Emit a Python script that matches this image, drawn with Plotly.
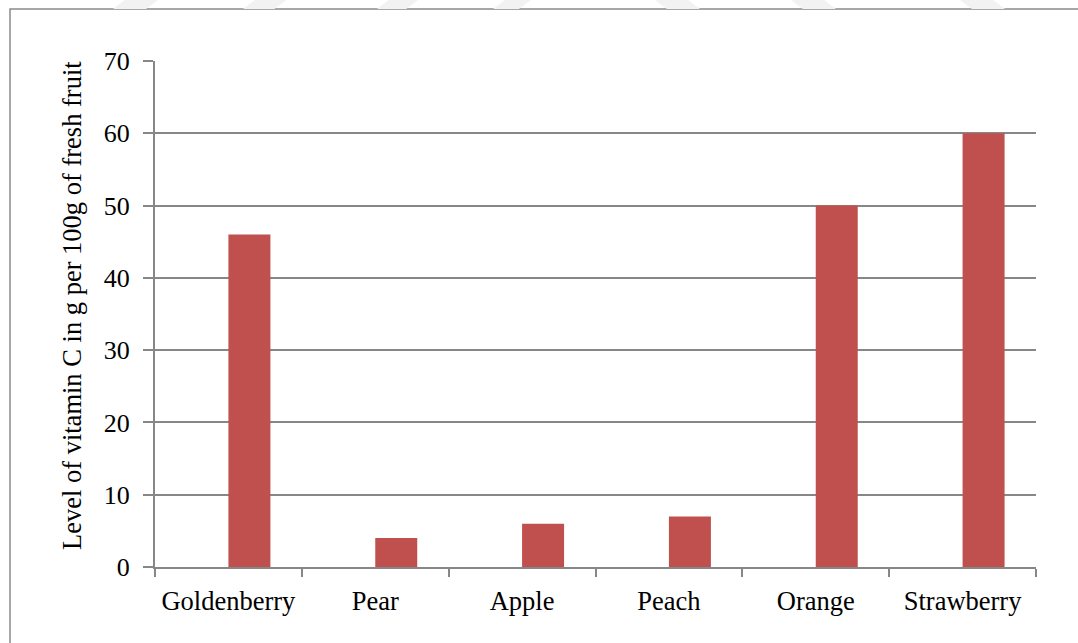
import plotly.graph_objects as go

# Vitamin C content per fruit
fruits = ["Goldenberry", "Pear", "Apple", "Peach", "Orange", "Strawberry"]
vitamin_c = [46, 4, 6, 7, 50, 60]

y_ticks = [0, 10, 20, 30, 40, 50, 60, 70]
y_title = "Level of vitamin C in g per 100g of fresh fruit"

W, H = 1078, 643
L, R, T, B = 155, 42, 61, 76
PW, PH = W - L - R, H - T - B

FONT = "Liberation Serif, Times New Roman, serif"
GRID = "#878787"


def px(x):
    return (x - L) / PW


def py(y):
    return (H - B - y) / PH


fig = go.Figure()

# Bars sit in the right half of each category slot (Excel clustered style)
fig.add_trace(go.Bar(
    x=fruits,
    y=vitamin_c,
    width=0.286,
    offset=0,
    marker=dict(color="#C0504D", line=dict(width=0)),
    hoverinfo="x+y",
))

shapes = []
# chart frame
shapes.append(dict(
    type="rect", xref="paper", yref="paper",
    x0=px(10), x1=px(1090), y0=py(660), y1=py(9),
    line=dict(color="#8a8a8a", width=1.5), fillcolor="rgba(0,0,0,0)",
    layer="below",
))

# faint diagonal bands along the top edge
bands = [(113, 173, 1), (243, 300, 1), (377, 430, 1), (493, 540, 1),
         (655, 715, -1), (791, 851, -1), (960, 1020, -1)]
for x0, x1, d in bands:
    w = x1 - x0
    s = 12 * d
    if d > 0:
        pts = [(x0, 9), (x0 + w * 0.55, 9), (x0 + w * 0.55 + s, 0), (x0 + s, 0)]
    else:
        pts = [(x0 - s, 9), (x0 - s + w * 0.55, 9), (x0 + w * 0.55, 0), (x0, 0)]
    path = "M " + " L ".join(f"{px(a)},{py(b)}" for a, b in pts) + " Z"
    shapes.append(dict(type="path", xref="paper", yref="paper", path=path,
                       fillcolor="#f2f2f2", line=dict(width=0), layer="below"))

fig.update_layout(
    width=W, height=H,
    margin=dict(l=L, r=R, t=T, b=B, autoexpand=False),
    paper_bgcolor="white",
    plot_bgcolor="white",
    showlegend=False,
    font=dict(family=FONT, size=26, color="black"),
    shapes=shapes,
    annotations=[dict(
        text=y_title, xref="paper", yref="paper",
        x=px(72), y=py(306), xanchor="center", yanchor="middle",
        textangle=-90, showarrow=False,
        font=dict(family=FONT, size=26.5, color="black"),
    )],
    xaxis=dict(
        type="category",
        categoryorder="array",
        categoryarray=fruits,
        range=[-0.5, len(fruits) - 0.5],
        showgrid=False,
        showline=True,
        linecolor=GRID,
        linewidth=2,
        ticks="outside",
        tickson="boundaries",
        ticklen=8,
        tickwidth=2,
        tickcolor=GRID,
        ticklabelstandoff=9,
        tickfont=dict(family=FONT, size=26.5),
        zeroline=False,
        automargin=False,
    ),
    yaxis=dict(
        range=[0, 70],
        tickvals=y_ticks,
        showgrid=True,
        gridcolor=GRID,
        gridwidth=2,
        showline=True,
        linecolor=GRID,
        linewidth=2,
        ticks="outside",
        ticklen=10,
        tickwidth=2,
        tickcolor=GRID,
        ticklabelstandoff=8,
        tickfont=dict(family=FONT, size=26),
        zeroline=False,
        automargin=False,
    ),
)

fig.write_html("out.html")
